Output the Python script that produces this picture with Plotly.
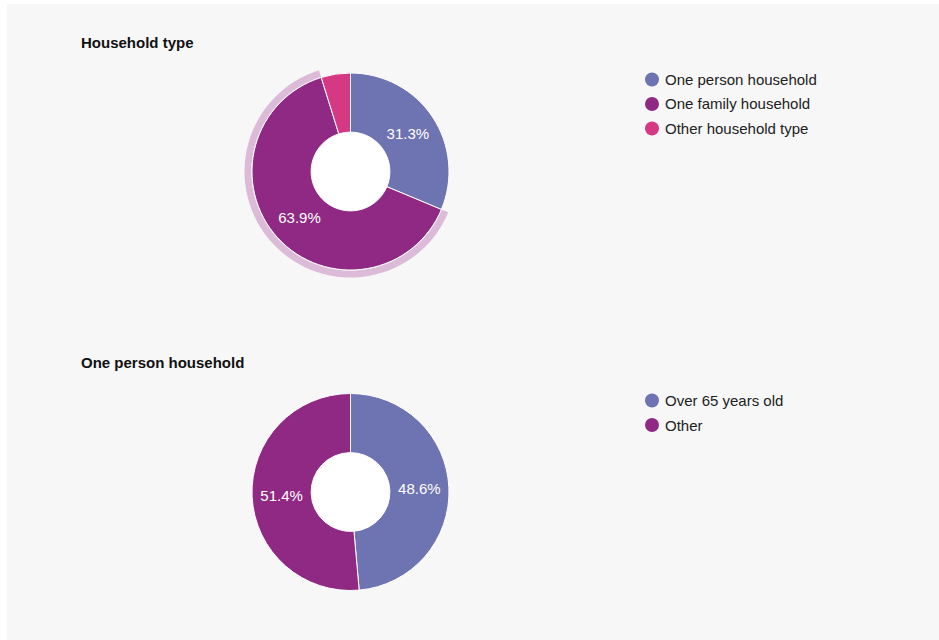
import plotly.graph_objects as go

W, H = 939, 640

# ---- data ----
hh_labels = ["One person household", "One family household", "Other household type"]
hh_values = [31.3, 63.9, 4.8]
op_labels = ["Over 65 years old", "Other"]
op_values = [48.6, 51.4]

titles = ["Household type", "One person household"]

# ---- style ----
C_BLUE = "#6e73b2"
C_PURPLE = "#8f2983"
C_PINK = "#d63983"
C_RING = "#dbbbd8"
BG = "#f7f7f7"
FONT = "Liberation Sans, Arial, sans-serif"


def px_x(x):
    return x / W


def px_y(y):
    return 1 - y / H


def domain(cx, cy, r):
    return dict(x=[px_x(cx - r), px_x(cx + r)], y=[px_y(cy + r), px_y(cy - r)])


fig = go.Figure()

# pie geometry (pixels)
c1 = (350.5, 171.5)
c2 = (350.5, 492)
R = 98.5
HOLE = 0.40

# highlight ring behind the selected slice
fig.add_trace(go.Pie(
    values=hh_values, labels=hh_labels, sort=False, direction="clockwise",
    domain=domain(c1[0], c1[1], R + 7.5), hole=(R + 0.5) / (R + 7.5),
    marker=dict(colors=["rgba(0,0,0,0)", C_RING, "rgba(0,0,0,0)"], line=dict(width=0)),
    textinfo="none", hoverinfo="skip", showlegend=False,
))

fig.add_trace(go.Pie(
    values=hh_values, labels=hh_labels, sort=False, direction="clockwise",
    domain=domain(c1[0], c1[1], R), hole=HOLE,
    marker=dict(colors=[C_BLUE, C_PURPLE, C_PINK], line=dict(color="white", width=1)),
    texttemplate=["%{percent:.1%}", "%{percent:.1%}", ""],
    textposition="inside", insidetextorientation="horizontal",
    insidetextfont=dict(color="white", size=15, family=FONT),
    showlegend=False,
))

fig.add_trace(go.Pie(
    values=op_values, labels=op_labels, sort=False, direction="clockwise",
    domain=domain(c2[0], c2[1], R), hole=HOLE,
    marker=dict(colors=[C_BLUE, C_PURPLE], line=dict(color="white", width=1)),
    texttemplate="%{percent:.1%}",
    textposition="inside", insidetextorientation="horizontal",
    insidetextfont=dict(color="white", size=15, family=FONT),
    showlegend=False,
))

shapes = [
    dict(type="rect", xref="paper", yref="paper", x0=px_x(7), x1=1, y0=0, y1=px_y(4),
         fillcolor=BG, line=dict(width=0), layer="below"),
]
for (cx, cy) in (c1, c2):
    r = R * HOLE
    shapes.append(dict(type="circle", xref="paper", yref="paper",
                       x0=px_x(cx - r), x1=px_x(cx + r), y0=px_y(cy + r), y1=px_y(cy - r),
                       fillcolor="white", line=dict(width=0), layer="below"))

annotations = []
for t, y in zip(titles, (42, 362)):
    annotations.append(dict(text="<b>%s</b>" % t, xref="paper", yref="paper",
                            x=px_x(79), y=px_y(y), xanchor="left", yanchor="middle",
                            showarrow=False, font=dict(size=15, color="#111", family=FONT)))

# legends
legends = [
    (hh_labels, [C_BLUE, C_PURPLE, C_PINK], 79.5),
    (op_labels, [C_BLUE, C_PURPLE], 400.5),
]
for labels, colors, y0 in legends:
    for i, (lab, col) in enumerate(zip(labels, colors)):
        y = y0 + i * 24.5
        shapes.append(dict(type="circle", xref="paper", yref="paper",
                           x0=px_x(645), x1=px_x(659), y0=px_y(y + 7), y1=px_y(y - 7),
                           fillcolor=col, line=dict(width=0)))
        annotations.append(dict(text=lab, xref="paper", yref="paper",
                                x=px_x(663), y=px_y(y), xanchor="left", yanchor="middle",
                                showarrow=False, font=dict(size=15, color="#222", family=FONT)))

fig.update_layout(
    width=W, height=H, margin=dict(l=0, r=0, t=0, b=0),
    paper_bgcolor="white", plot_bgcolor="white",
    shapes=shapes, annotations=annotations,
    font=dict(family=FONT),
)

fig.write_html("out.html")
